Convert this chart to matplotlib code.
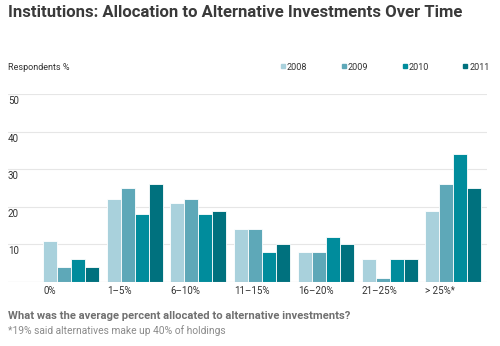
import matplotlib
matplotlib.use("Agg")
import matplotlib.pyplot as plt
from matplotlib.patches import Rectangle
import numpy as np

categories = ["0%", "1\u20135%", "6\u201310%", "11\u201315%", "16\u201320%", "21\u201325%", "> 25%*"]
years = ["2008", "2009", "2010", "2011"]
values = {
    "2008": [11, 22, 21, 14, 8, 6, 19],
    "2009": [4, 25, 22, 14, 8, 1, 26],
    "2010": [6, 18, 18, 8, 12, 6, 34],
    "2011": [4, 26, 19, 10, 10, 6, 25],
}
colors = ["#a9d1dc", "#5ea8b8", "#008c9c", "#00717e"]
yticks = [10, 20, 30, 40, 50]

plt.rcParams["font.family"] = ["Roboto", "DejaVu Sans"]

fig = plt.figure(figsize=(5, 3.46), dpi=100)
ax = fig.add_axes([0.016, 0.185, 0.958, 0.542])

w = 0.22
x = np.arange(len(categories))
for j, yr in enumerate(years):
    ax.bar(x + (j - 1.5) * w, values[yr], width=w, color=colors[j],
           edgecolor="white", linewidth=0.6, zorder=3)

ax.set_xlim(-0.99, 6.53)
ax.set_ylim(0, 50)
for v in yticks:
    ax.axhline(v, color="#e6e6e6", linewidth=0.8, zorder=1)
    ax.text(0.0, v - 0.5, str(v), transform=ax.get_yaxis_transform(),
            ha="left", va="top", fontsize=7, color="#333333")
ax.axhline(0, color="#bdbdbd", linewidth=0.8, zorder=4)

ax.set_yticks([])
ax.set_xticks(x - 2 * w)
ax.set_xticklabels(categories, ha="left", fontsize=7, color="#333333")
ax.tick_params(axis="x", length=0, pad=3)
for s in ax.spines.values():
    s.set_visible(False)

fig.text(0.016, 0.965, "Institutions: Allocation to Alternative Investments Over Time",
         fontsize=12, fontweight="bold", color="#3a3a3a", va="center")
fig.text(0.016, 0.806, "Respondents %", fontsize=6.5, color="#333333", va="center")

for j, yr in enumerate(years):
    lx = 0.562 + j * 0.1215
    fig.add_artist(Rectangle((lx, 0.803), 0.008, 0.011, transform=fig.transFigure,
                             color=colors[j]))
    fig.text(lx + 0.012, 0.806, yr, fontsize=6.5, color="#333333", va="center")

fig.text(0.016, 0.088, "What was the average percent allocated to alternative investments?",
         fontsize=8.1, fontweight="bold", color="#707070", va="center")
fig.text(0.016, 0.045, "*19% said alternatives make up 40% of holdings",
         fontsize=7.4, color="#8a8a8a", va="center")

fig.savefig("out.png", dpi=100)
